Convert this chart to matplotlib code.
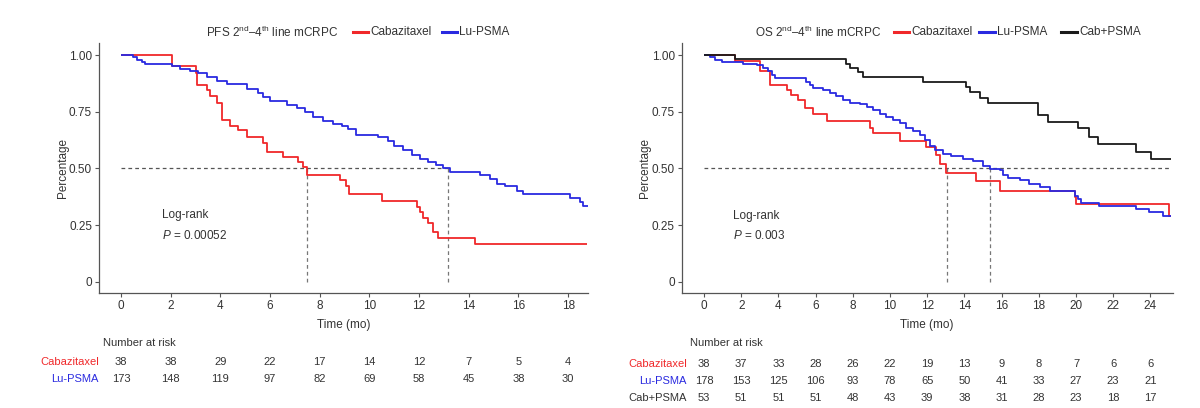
import matplotlib
matplotlib.use("Agg")
import matplotlib.pyplot as plt
from matplotlib.lines import Line2D

plt.rcParams['font.family'] = ['Liberation Sans', 'DejaVu Sans']
plt.rcParams['mathtext.fontset'] = 'custom'
plt.rcParams['mathtext.rm'] = 'Liberation Sans'
plt.rcParams['mathtext.it'] = 'Liberation Sans:italic'

# ---------------- data ----------------
# PFS (left panel)
pfs_cab_t = [0, 2.04, 3.0, 3.05, 3.45, 3.6, 3.85, 4.05, 4.39, 4.72, 5.06, 5.73, 5.86, 6.53, 7.13, 7.34, 7.5,
             8.81, 9.05, 9.19, 10.49, 11.9, 12.03, 12.17, 12.37, 12.57, 12.77, 14.24, 18.76]
pfs_cab_s = [1.0, 0.95, 0.921, 0.869, 0.847, 0.817, 0.79, 0.714, 0.688, 0.668, 0.64, 0.611, 0.574, 0.552, 0.526,
             0.505, 0.471, 0.449, 0.42, 0.387, 0.358, 0.331, 0.306, 0.28, 0.258, 0.221, 0.191, 0.166, 0.166]
pfs_lu_t = [0, 0.5, 0.65, 0.83, 0.97, 2.04, 2.38, 2.78, 3.11, 3.45, 3.85, 4.25, 5.06, 5.53, 5.73, 6.0, 6.67, 7.07,
            7.4, 7.74, 8.14, 8.54, 8.88, 9.15, 9.48, 10.35, 10.76, 11.0, 11.36, 11.7, 12.03, 12.37, 12.7, 12.97,
            13.24, 14.44, 14.85, 15.12, 15.46, 15.93, 16.19, 18.07, 18.47, 18.6, 18.8]
pfs_lu_s = [1.0, 0.99, 0.98, 0.97, 0.962, 0.95, 0.938, 0.93, 0.92, 0.903, 0.884, 0.873, 0.85, 0.832, 0.814, 0.795,
            0.78, 0.766, 0.747, 0.726, 0.71, 0.697, 0.688, 0.673, 0.648, 0.638, 0.619, 0.6, 0.579, 0.56, 0.54,
            0.53, 0.515, 0.5, 0.482, 0.471, 0.452, 0.431, 0.42, 0.402, 0.387, 0.368, 0.353, 0.334, 0.334]
pfs_medians = [7.47, 13.17]
pfs_ticks = [0, 2, 4, 6, 8, 10, 12, 14, 16, 18]
pfs_risk_cab = [38, 38, 29, 22, 17, 14, 12, 7, 5, 4]
pfs_risk_lu = [173, 148, 119, 97, 82, 69, 58, 45, 38, 30]
pfs_p = "0.00052"

# OS (right panel)
os_cab_t = [0, 1.66, 3.0, 3.54, 4.44, 4.7, 5.07, 5.42, 5.87, 6.59, 8.91, 9.1, 10.52, 11.96, 12.49, 12.67, 13.03,
            14.64, 15.9, 19.92, 20.0, 25.02, 25.1]
os_cab_s = [1.0, 0.974, 0.928, 0.868, 0.846, 0.824, 0.80, 0.765, 0.74, 0.71, 0.68, 0.654, 0.621, 0.592, 0.558,
            0.518, 0.479, 0.444, 0.40, 0.373, 0.343, 0.291, 0.291]
os_lu_t = [0, 0.3, 0.6, 0.95, 2.11, 2.83, 3.19, 3.45, 3.63, 3.81, 5.5, 5.69, 5.87, 6.4, 6.77, 7.12, 7.48, 7.84,
           8.38, 8.74, 9.09, 9.45, 9.81, 10.17, 10.52, 10.88, 11.24, 11.6, 11.87, 12.13, 12.4, 12.85, 13.3, 13.92,
           14.46, 15.0, 15.36, 15.9, 16.08, 16.34, 16.97, 17.5, 18.04, 18.58, 19.92, 20.1, 20.28, 21.26, 23.23,
           23.95, 24.66, 25.1]
os_lu_s = [1.0, 0.99, 0.976, 0.97, 0.962, 0.957, 0.942, 0.928, 0.913, 0.898, 0.883, 0.868, 0.854, 0.846, 0.831,
           0.817, 0.80, 0.79, 0.784, 0.772, 0.757, 0.74, 0.725, 0.713, 0.698, 0.68, 0.666, 0.646, 0.624, 0.598,
           0.58, 0.565, 0.553, 0.543, 0.533, 0.509, 0.499, 0.491, 0.472, 0.459, 0.447, 0.432, 0.417, 0.402, 0.38,
           0.365, 0.346, 0.333, 0.321, 0.306, 0.291, 0.291]
os_comb_t = [0, 1.66, 7.66, 7.84, 8.29, 8.56, 11.78, 14.07, 14.28, 14.82, 15.27, 17.95, 18.49, 20.1, 20.72,
             21.17, 23.23, 24.04, 25.1]
os_comb_s = [1.0, 0.981, 0.962, 0.943, 0.924, 0.902, 0.883, 0.861, 0.839, 0.809, 0.787, 0.735, 0.706, 0.676,
             0.639, 0.609, 0.572, 0.543, 0.543]
os_medians = [13.08, 15.36]
os_ticks = [0, 2, 4, 6, 8, 10, 12, 14, 16, 18, 20, 22, 24]
os_risk_cab = [38, 37, 33, 28, 26, 22, 19, 13, 9, 8, 7, 6, 6]
os_risk_lu = [178, 153, 125, 106, 93, 78, 65, 50, 41, 33, 27, 23, 21]
os_risk_comb = [53, 51, 51, 51, 48, 43, 39, 38, 31, 28, 23, 18, 17]
os_p = "0.003"

y_ticks = [0, 0.25, 0.5, 0.75, 1.0]
y_ticklabels = ["0", "0.25", "0.50", "0.75", "1.00"]

RED = "#f0282a"
BLUE = "#2a2ae0"
BLACK = "#1a1a1a"
AXC = "#555555"
TXT = "#333333"
FS = 8.5

W, H = 1200, 408
fig = plt.figure(figsize=(W / 100, H / 100), dpi=100)


def fx(x):
    return x / W


def fy(y):
    return 1 - y / H


def setup_axes(ax, xlim, ticks):
    ax.set_xlim(*xlim)
    ax.set_ylim(-0.05, 1.053)
    for s in ["top", "right"]:
        ax.spines[s].set_visible(False)
    for s in ["left", "bottom"]:
        ax.spines[s].set_color(AXC)
        ax.spines[s].set_linewidth(0.9)
    ax.set_xticks(ticks)
    ax.set_xticklabels([str(t) for t in ticks])
    ax.set_yticks(y_ticks)
    ax.set_yticklabels(y_ticklabels)
    ax.tick_params(colors=AXC, labelcolor=TXT, labelsize=FS, length=3, width=0.8, pad=2)


def km(ax, t, s, color):
    ax.step(t, s, where="post", color=color, lw=1.3, solid_capstyle="butt")


def medians(ax, meds, hend):
    ax.plot([0, hend], [0.5, 0.5], ls=(0, (3, 2.5)), color="#555555", lw=0.9)
    for m in meds:
        ax.plot([m, m], [0, 0.5], ls=(0, (3, 2.5)), color="#777777", lw=0.9)


# ---------- left panel ----------
axL = fig.add_axes([fx(99), fy(293), fx(588 - 99), (293 - 43) / H])
setup_axes(axL, (-0.885, 18.8), pfs_ticks)
medians(axL, pfs_medians, pfs_medians[1])
km(axL, pfs_cab_t, pfs_cab_s, RED)
km(axL, pfs_lu_t, pfs_lu_s, BLUE)
axL.text(1.65, 0.295, "Log-rank", fontsize=FS, color=TXT, va="center")
axL.text(1.65, 0.205, r"$P$ = " + pfs_p, fontsize=FS, color=TXT, va="center")

# ---------- right panel ----------
axR = fig.add_axes([fx(681.7), fy(293), fx(1172.7 - 681.7), (293 - 43) / H])
setup_axes(axR, (-1.2, 25.2), os_ticks)
medians(axR, os_medians, 25.1)
km(axR, os_cab_t, os_cab_s, RED)
km(axR, os_lu_t, os_lu_s, BLUE)
km(axR, os_comb_t, os_comb_s, BLACK)
axR.text(1.57, 0.291, "Log-rank", fontsize=FS, color=TXT, va="center")
axR.text(1.57, 0.203, r"$P$ = " + os_p, fontsize=FS, color=TXT, va="center")

# axis labels
for ax, xl in [(axL, 63), (axR, 645)]:
    fig.text(fx(xl), fy(168), "Percentage", rotation=90, ha="center", va="center", fontsize=FS, color=TXT)
    pos = ax.get_position()
    fig.text((pos.x0 + pos.x1) / 2, fy(325), "Time (mo)", ha="center", va="center", fontsize=FS, color=TXT)


# titles / legends
def legend_item(x0, x1, y, color, label):
    fig.add_artist(Line2D([fx(x0), fx(x1)], [fy(y), fy(y)], color=color, lw=2.2))
    fig.text(fx(x1 + 2), fy(y), label, ha="left", va="center", fontsize=FS, color=TXT)


fig.text(fx(206), fy(32), r"PFS 2$^{\mathrm{nd}}$–4$^{\mathrm{th}}$ line mCRPC", ha="left", va="center",
         fontsize=FS, color=TXT)
legend_item(353, 368, 32, RED, "Cabazitaxel")
legend_item(442, 457, 32, BLUE, "Lu-PSMA")

fig.text(fx(755), fy(32), r"OS 2$^{\mathrm{nd}}$–4$^{\mathrm{th}}$ line mCRPC", ha="left", va="center",
         fontsize=FS, color=TXT)
legend_item(894, 909, 32, RED, "Cabazitaxel")
legend_item(979, 995, 32, BLUE, "Lu-PSMA")
legend_item(1061, 1077, 32, BLACK, "Cab+PSMA")


# risk tables
def risk_table(ax, ticks, rows, label_right, nar_left, y_title, y_rows):
    fig.text(fx(nar_left), fy(y_title), "Number at risk", ha="left", va="center", fontsize=FS - 0.5, color=TXT)
    for (label, color, vals), yr in zip(rows, y_rows):
        fig.text(fx(label_right), fy(yr), label, ha="right", va="center", fontsize=FS - 0.5, color=color)
        for t, v in zip(ticks, vals):
            xd = ax.transData.transform((t, 0))[0]
            xf = fig.transFigure.inverted().transform((xd, 0))[0]
            fig.text(xf, fy(yr), str(v), ha="center", va="center", fontsize=FS - 0.5, color=TXT)


risk_table(axL, pfs_ticks,
           [("Cabazitaxel", RED, pfs_risk_cab), ("Lu-PSMA", BLUE, pfs_risk_lu)],
           99, 103, 343, [362, 379])
risk_table(axR, os_ticks,
           [("Cabazitaxel", RED, os_risk_cab), ("Lu-PSMA", BLUE, os_risk_lu), ("Cab+PSMA", TXT, os_risk_comb)],
           687, 690, 343, [364, 381, 398])

fig.savefig("out.png", dpi=100, facecolor="white")
